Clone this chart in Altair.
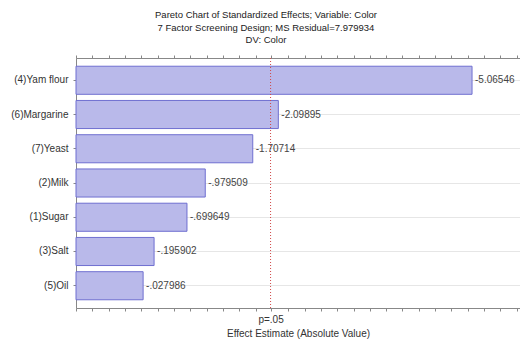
import altair as alt
import pandas as pd

factors = ["(4)Yam flour", "(6)Margarine", "(7)Yeast", "(2)Milk", "(1)Sugar", "(3)Salt", "(5)Oil"]
effects = [5.06546, 2.09895, 1.70714, 0.979509, 0.699649, 0.195902, 0.027986]
labels = ["-5.06546", "-2.09895", "-1.70714", "-.979509", "-.699649", "-.195902", "-.027986"]
p_crit = 1.98
x_ticks = [-1 + 0.25 * i for i in range(28)]
x_ticks = [p_crit if abs(t - 2.0) < 1e-9 else t for t in x_ticks]

df = pd.DataFrame({"factor": factors, "effect": effects, "label": labels})
pdf = pd.DataFrame({"p": [p_crit]})

FONT = "Liberation Sans"
xscale = alt.Scale(domain=[-1, 5.8], nice=False, zero=False)
yaxis = alt.Axis(title=None, labelFont=FONT, labelFontSize=10, labelColor="#333",
                 labelPadding=5, tickSize=3, tickColor="#888", domainColor="#888",
                 grid=True, gridColor="#e6e6e6", bandPosition=0.5)
yscale = alt.Scale(paddingInner=0.18, paddingOuter=0.24)

bars = alt.Chart(df).mark_bar(fill="#b9b9ea", stroke="#6f6fd0", strokeWidth=1, orient="horizontal").encode(
    x=alt.X("effect:Q", scale=xscale,
            axis=alt.Axis(values=x_ticks, labelExpr="abs(datum.value - 1.98) < 0.001 ? 'p=.05' : ''",
                          labelFont=FONT, labelFontSize=10, labelColor="#333", labelPadding=3,
                          tickSize=3, tickColor="#888", domainColor="#888", grid=False,
                          title="Effect Estimate (Absolute Value)", titleFont=FONT, titleFontSize=10,
                          titleFontWeight="normal", titleColor="#333", titlePadding=4)),
    x2=alt.datum(-1),
    y=alt.Y("factor:N", sort=factors, scale=yscale, axis=yaxis),
)

text = alt.Chart(df).mark_text(align="left", dx=3, font=FONT, fontSize=10, color="#444").encode(
    x=alt.X("effect:Q", scale=xscale, axis=None),
    y=alt.Y("factor:N", sort=factors, scale=yscale, axis=yaxis),
    text="label:N",
)

pline = alt.Chart(pdf).mark_rule(color="#d04848", strokeDash=[1, 2], strokeWidth=1).encode(
    x=alt.X("p:Q", scale=xscale,
            axis=alt.Axis(orient="top", values=x_ticks, labels=False, tickSize=3, tickColor="#888",
                          domainColor="#888", grid=False, title=None)),
)

chart = alt.layer(bars, pline, text).resolve_axis(x="independent").properties(
    width=444, height=250,
    autosize=alt.AutoSizeParams(type="none"),
    padding={"left": 68, "top": 50, "right": 0, "bottom": 33},
    title=alt.TitleParams(
        ["Pareto Chart of Standardized Effects; Variable: Color",
         "7 Factor Screening Design; MS Residual=7.979934",
         "DV: Color"],
        font=FONT, fontSize=9.5, fontWeight="normal", color="#222", lineHeight=12.5,
        anchor="middle", dx=-32, offset=10),
).configure_view(stroke="#888", strokeWidth=1).configure(background="white")

chart.save("out.html", embed_options={"renderer": "svg", "actions": False})
